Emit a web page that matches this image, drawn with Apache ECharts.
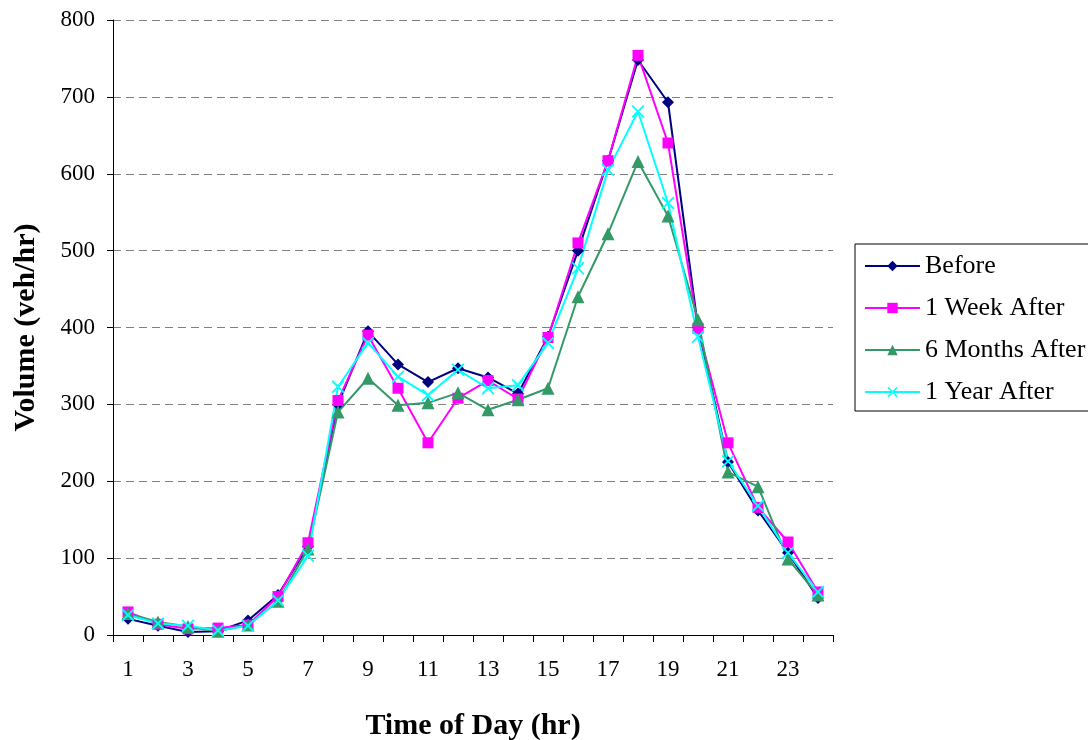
<!DOCTYPE html>
<html>
<head>
<meta charset="utf-8">
<style>
  html, body { margin: 0; padding: 0; background: #fff; }
  #main { width: 1088px; height: 740px; }
</style>
<script src="https://cdn.jsdelivr.net/npm/echarts@6/dist/echarts.min.js"></script>
</head>
<body>
<div id="main"></div>
<script>
var hours = ['1','2','3','4','5','6','7','8','9','10','11','12','13','14','15','16','17','18','19','20','21','22','23','24'];

var before      = [21, 12, 4, 5, 19, 52, 115, 300, 395, 352, 329, 347, 335, 314, 388, 500, 617, 748, 693, 400, 225, 162, 107, 48];
var oneWeek     = [30, 14, 8, 9, 13, 50, 120, 305, 390, 321, 250, 308, 331, 307, 387, 510, 617, 754, 640, 399, 250, 166, 121, 56];
var sixMonths   = [28, 17, 11, 5, 13, 44, 112, 290, 334, 299, 302, 315, 293, 306, 321, 440, 522, 616, 545, 410, 212, 193, 99, 52];
var oneYear     = [26, 15, 12, 6, 12, 45, 103, 323, 380, 336, 312, 345, 321, 325, 380, 477, 605, 681, 562, 388, 226, 168, 107, 56];

var serif = '"Liberation Serif", "Times New Roman", serif';
var xMark = 'path://M0,1L1,0L5,4L9,0L10,1L6,5L10,9L9,10L5,6L1,10L0,9L4,5Z';

var chart = echarts.init(document.getElementById('main'));

function line(name, data, color, symbol, size) {
    return {
        name: name,
        type: 'line',
        data: data,
        symbol: symbol,
        symbolSize: size,
        showSymbol: true,
        color: color,
        lineStyle: { color: color, width: 2 },
        itemStyle: { color: color, borderWidth: 0 }
    };
}

option = {
    animation: false,
    backgroundColor: '#fff',
    textStyle: { fontFamily: serif },
    grid: {
        left: 113,
        top: 20,
        width: 720,
        height: 615,
        containLabel: false,
        outerBoundsMode: 'none'
    },
    legend: {
        orient: 'vertical',
        left: 855,
        top: 244,
        padding: [9, 10, 6, 9],
        itemGap: 16,
        itemWidth: 55,
        itemHeight: 13,
        borderColor: '#000',
        borderWidth: 1,
        borderRadius: 0,
        textStyle: { fontFamily: serif, fontSize: 26, color: '#000' },
        data: ['Before', '1 Week After', '6 Months After', '1 Year After']
    },
    xAxis: {
        type: 'category',
        data: hours,
        boundaryGap: true,
        name: 'Time of Day (hr)',
        nameLocation: 'middle',
        nameGap: 76,
        nameTextStyle: { fontFamily: serif, fontSize: 30, fontWeight: 'bold', color: '#000' },
        axisLine: { show: true, lineStyle: { color: '#000', width: 1 } },
        axisTick: { show: true, interval: 0, length: 7, lineStyle: { color: '#000' } },
        axisLabel: { interval: 1, margin: 23, fontFamily: serif, fontSize: 23, color: '#000' },
        splitLine: { show: false }
    },
    yAxis: {
        type: 'value',
        min: 0,
        max: 800,
        interval: 100,
        name: 'Volume (veh/hr)',
        nameLocation: 'middle',
        nameGap: 72,
        nameRotate: 90,
        nameTextStyle: { fontFamily: serif, fontSize: 30, fontWeight: 'bold', color: '#000' },
        axisLine: { show: true, lineStyle: { color: '#000', width: 1 } },
        axisTick: { show: true, length: 6, lineStyle: { color: '#000' } },
        axisLabel: { margin: 18, fontFamily: serif, fontSize: 23, color: '#000' },
        splitLine: { show: true, lineStyle: { color: '#808080', type: [8, 5], width: 1 } }
    },
    series: [
        line('Before', before, '#000080', 'diamond', 12),
        line('1 Week After', oneWeek, '#FF00FF', 'rect', 11),
        line('6 Months After', sixMonths, '#339966', 'triangle', 13),
        line('1 Year After', oneYear, '#00FFFF', xMark, 13)
    ]
};
chart.setOption(option);
window.addEventListener('resize', function () {
    chart.resize();
});
</script>
</body>
</html>
